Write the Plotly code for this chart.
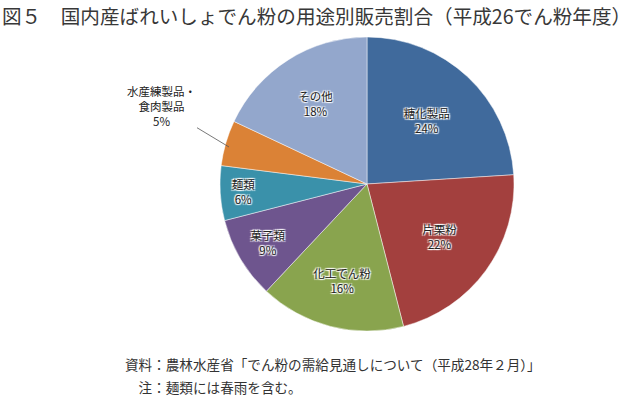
import plotly.graph_objects as go

labels = ["糖化製品", "片栗粉", "化工でん粉", "菓子類", "麺類", "水産練製品・食肉製品", "その他"]
values = [24, 22, 16, 9, 6, 5, 18]
colors = ["#406A9C", "#A3403E", "#89A44E", "#6E558E", "#3A91AA", "#DB8236", "#93A7CC"]
text_pos = ["inside", "inside", "inside", "inside", "inside", "none", "inside"]

title_text = "図５　国内産ばれいしょでん粉の用途別販売割合（平成26でん粉年度）"
source_text = "資料：農林水産省「でん粉の需給見通しについて（平成28年２月）」"
note_text = "　注：麺類には春雨を含む。"
outside_label = "水産練製品・<br>食肉製品<br>5%"

FONT = "Noto Sans CJK JP"
W, H = 640, 399

fig = go.Figure(go.Pie(
    labels=labels,
    values=values,
    sort=False,
    direction="clockwise",
    rotation=0,
    marker=dict(colors=colors, line=dict(color="rgba(255,255,255,0.6)", width=0.8)),
    textposition=text_pos,
    texttemplate="%{label}<br>%{percent:.0%}",
    insidetextorientation="horizontal",
    textfont=dict(family=FONT, size=11.5, color="#222222",
                  shadow="1px 1px 1px white, -1px -1px 1px white, 1px -1px 1px white, -1px 1px 1px white"),
    domain=dict(x=[(367 - 147) / W, (367 + 147) / W], y=[1 - 331 / H, 1 - 37 / H]),
    showlegend=False,
    hoverinfo="label+percent",
))

fig.update_layout(
    width=W, height=H,
    margin=dict(l=0, r=0, t=0, b=0),
    paper_bgcolor="white",
    plot_bgcolor="white",
    font=dict(family=FONT, color="#333333"),
    annotations=[
        dict(text=title_text, xref="paper", yref="paper", x=0.0015, y=1,
             xanchor="left", yanchor="top", showarrow=False, borderpad=0,
             font=dict(family=FONT, size=19.6, color="#383838")),
        dict(text=outside_label, xref="paper", yref="paper",
             x=229 / W, y=1 - 147 / H, ax=-68, ay=-41,
             showarrow=True, arrowhead=0, arrowwidth=0.8, arrowcolor="#555555",
             font=dict(family=FONT, size=11.5, color="#222222"), align="center"),
        dict(text=source_text, xref="paper", yref="paper", x=123 / W, y=1 - 364 / H,
             xanchor="left", yanchor="middle", showarrow=False,
             font=dict(family=FONT, size=13.6, color="#333333")),
        dict(text=note_text, xref="paper", yref="paper", x=123 / W, y=1 - 387 / H,
             xanchor="left", yanchor="middle", showarrow=False,
             font=dict(family=FONT, size=13.6, color="#333333")),
    ],
)

fig.write_html("out.html", config={"displayModeBar": False},
               post_script="document.body.style.margin='0';document.body.style.overflow='hidden';")
